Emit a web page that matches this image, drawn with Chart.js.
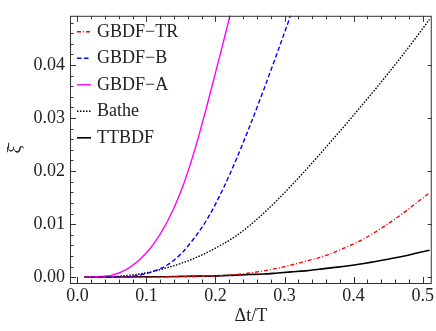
<!DOCTYPE html>
<html>
<head>
<meta charset="utf-8">
<script src="https://cdn.jsdelivr.net/npm/chart.js@4/dist/chart.umd.min.js"></script>
<style>
  html, body { margin: 0; padding: 0; background: #fff; }
  #wrap { width: 436px; height: 331px; }
</style>
</head>
<body>
<div id="wrap"><canvas id="errChart" width="436" height="331"></canvas></div>
<script>
// time step ratio Δt/T
const dt = [0.01, 0.03, 0.05, 0.07, 0.09, 0.11, 0.13, 0.15, 0.17, 0.19, 0.21, 0.23, 0.25,
            0.27, 0.29, 0.31, 0.33, 0.35, 0.37, 0.39, 0.41, 0.43, 0.45, 0.47, 0.49, 0.51]

// period error per scheme (curves leaving the frame stop a bit past the top)
const gbdfTR = [0, 0, 0, 0, 0, 0, 0.0001, 0.0001, 0.0001, 0.0002, 0.0003, 0.0005, 0.0008,
                0.0012, 0.0017, 0.0023, 0.0030, 0.0037, 0.0046, 0.0057, 0.0069, 0.0084, 0.0101, 0.0119, 0.0139, 0.0159]
const gbdfB = [0, 0, 0.0001, 0.0001, 0.0004, 0.0011, 0.0023, 0.0044, 0.0075, 0.0114, 0.0164, 0.0222, 0.0286,
               0.0354, 0.0425, 0.0498, 0.0574]
const gbdfA = [0, 0.0001, 0.0004, 0.0014, 0.0033, 0.0062, 0.0104, 0.0162, 0.0240, 0.0335, 0.0436, 0.0540, 0.0645]
const bathe = [0, 0, 0.0001, 0.0003, 0.0006, 0.0011, 0.0018, 0.0026, 0.0036, 0.0048, 0.0062, 0.0078, 0.0098,
               0.0121, 0.0146, 0.0173, 0.0201, 0.0230, 0.0260, 0.0290, 0.0321, 0.0352, 0.0384, 0.0417, 0.0451, 0.0486]
const ttbdf = [0, 0, 0, 0.00005, 0.0001, 0.0001, 0.0001, 0.00015, 0.0002, 0.0002, 0.0003, 0.0004, 0.0005,
               0.0006, 0.0008, 0.0010, 0.0012, 0.0015, 0.0018, 0.0021, 0.0025, 0.0029, 0.0034, 0.0039, 0.0045, 0.0051]

const xTicks = [0, 0.1, 0.2, 0.3, 0.4, 0.5]
const yTicks = [0, 0.01, 0.02, 0.03, 0.04]

const serif = "'Liberation Serif', 'DejaVu Serif', serif"
const inkColor = '#222'

function toPoints(vals) {
  return vals.map((v, i) => ({ x: dt[i], y: v }))
}

// Mathematica-like frame with inward ticks on every side
const framePlugin = {
  id: 'frameTicks',
  afterDatasetsDraw(chart) {
    const ctx = chart.ctx
    const a = chart.chartArea
    const xs = chart.scales.x
    const ys = chart.scales.y
    ctx.save()
    ctx.strokeStyle = '#333'
    ctx.lineWidth = 1
    ctx.strokeRect(a.left + 0.5, a.top + 0.5, a.right - a.left - 1, a.bottom - a.top)

    ctx.beginPath()
    for (let i = -1; i <= 26; i++) {
      const v = i * 0.02
      if (v < xs.min || v > xs.max) continue
      const px = Math.round(xs.getPixelForValue(v)) + 0.5
      const major = i % 5 === 0
      const len = major ? 6 : 3.5
      ctx.moveTo(px, a.bottom); ctx.lineTo(px, a.bottom - len)
      ctx.moveTo(px, a.top); ctx.lineTo(px, a.top + len)
    }
    for (let i = -1; i <= 25; i++) {
      const v = i * 0.002
      if (v < ys.min || v > ys.max) continue
      const py = Math.round(ys.getPixelForValue(v)) + 0.5
      const major = i % 5 === 0
      const len = major ? 6 : 3.5
      ctx.moveTo(a.left, py); ctx.lineTo(a.left + len, py)
      if (major) { ctx.moveTo(a.right, py); ctx.lineTo(a.right - 4, py) }
    }
    ctx.stroke()
    ctx.restore()
  }
}

// legend drawn inside the plot, upper left
const legendPlugin = {
  id: 'insetLegend',
  afterDraw(chart) {
    const ctx = chart.ctx
    const a = chart.chartArea
    ctx.save()
    ctx.font = '18px ' + serif
    ctx.textBaseline = 'middle'
    chart.data.datasets.forEach((ds, i) => {
      const y = a.top + 16 + i * 26.5
      ctx.strokeStyle = ds.borderColor
      ctx.lineWidth = ds.borderWidth
      ctx.setLineDash(ds.borderDash || [])
      ctx.beginPath()
      ctx.moveTo(a.left + 7, y)
      ctx.lineTo(a.left + 21, y)
      ctx.stroke()
      ctx.setLineDash([])
      ctx.fillStyle = inkColor
      ctx.fillText(ds.label, a.left + 27, y)
    })
    ctx.restore()
  }
}

const ctx = document.getElementById('errChart')
new Chart(ctx, {
  type: 'line',
  data: {
    datasets: [
      { label: 'GBDF\u2212TR', data: toPoints(gbdfTR), borderColor: '#ff0000', borderWidth: 1.4, borderDash: [4, 2, 1, 2] },
      { label: 'GBDF\u2212B', data: toPoints(gbdfB), borderColor: '#0000ff', borderWidth: 1.4, borderDash: [4.5, 2.5] },
      { label: 'GBDF\u2212A', data: toPoints(gbdfA), borderColor: '#ff00ff', borderWidth: 1.4 },
      { label: 'Bathe', data: toPoints(bathe), borderColor: '#000000', borderWidth: 1.4, borderDash: [1.5, 1.5] },
      { label: 'TTBDF', data: toPoints(ttbdf), borderColor: '#000000', borderWidth: 1.6 }
    ]
  },
  options: {
    responsive: false,
    animation: false,
    events: [],
    layout: { padding: { top: 6, right: 4, left: 0, bottom: 0 } },
    elements: {
      point: { radius: 0 },
      line: { cubicInterpolationMode: 'monotone', fill: false }
    },
    plugins: {
      legend: { display: false },
      tooltip: { enabled: false }
    },
    scales: {
      x: {
        type: 'linear',
        min: -0.0107,
        max: 0.5132,
        afterBuildTicks: (scale) => { scale.ticks = xTicks.map(v => ({ value: v })) },
        afterFit: (scale) => { scale.height = 48 },
        grid: { display: false, drawTicks: false },
        border: { display: false },
        ticks: {
          padding: 2,
          color: inkColor,
          font: { family: serif, size: 18 },
          maxRotation: 0,
          callback: (v) => v.toFixed(1)
        },
        title: {
          display: true,
          text: '\u0394t/T',
          color: inkColor,
          font: { family: serif, size: 18 }
        }
      },
      y: {
        min: -0.00109,
        max: 0.04927,
        afterBuildTicks: (scale) => { scale.ticks = yTicks.map(v => ({ value: v })) },
        afterFit: (scale) => { scale.width = 70 },
        grid: { display: false, drawTicks: false },
        border: { display: false },
        ticks: {
          padding: 5,
          color: inkColor,
          font: { family: serif, size: 18 },
          callback: (v) => v.toFixed(2)
        },
        title: {
          display: true,
          text: '\u03BE\u0304',
          color: inkColor,
          font: { family: serif, size: 18 }
        }
      }
    }
  },
  plugins: [framePlugin, legendPlugin]
})
</script>
</body>
</html>
